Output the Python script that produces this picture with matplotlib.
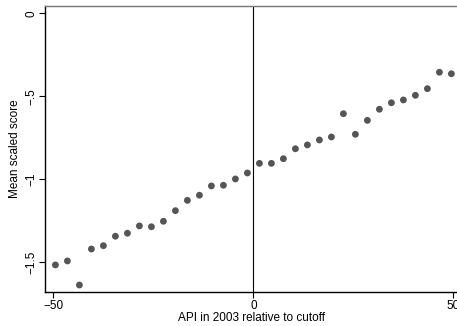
import numpy as np
import matplotlib
matplotlib.use('Agg')
import matplotlib.pyplot as plt

plt.rcParams['font.family'] = ['Liberation Sans', 'DejaVu Sans']

# bin midpoints (API relative to cutoff) and mean scaled scores
api_left = [-49.5, -46.5, -43.5, -40.5, -37.5, -34.5, -31.5, -28.5, -25.5,
            -22.5, -19.5, -16.5, -13.5, -10.5, -7.5, -4.5, -1.5]
score_left = [-1.516, -1.492, -1.637, -1.420, -1.400, -1.343, -1.325, -1.281, -1.286,
              -1.253, -1.189, -1.127, -1.096, -1.040, -1.036, -0.998, -0.962]
api_right = [1.5, 4.5, 7.5, 10.5, 13.5, 16.5, 19.5, 22.5, 25.5,
             28.5, 31.5, 34.5, 37.5, 40.5, 43.5, 46.5, 49.5]
score_right = [-0.904, -0.904, -0.876, -0.816, -0.793, -0.763, -0.745, -0.605, -0.729,
               -0.645, -0.578, -0.539, -0.522, -0.494, -0.454, -0.355, -0.364]

xticks = [-50, 0, 50]
xtick_labels = ['\u221250', '0', '50']
yticks = [0, -0.5, -1, -1.5]
ytick_labels = ['0', '\u2212.5', '\u22121', '\u22121.5']

fig = plt.figure(figsize=(4.57, 3.26), dpi=100)
ax = fig.add_axes([0.0985, 0.1043, 0.9015, 0.8773])

x = np.array(api_left + api_right)
y = np.array(score_left + score_right)
ax.scatter(x, y, s=24, color='#555555', edgecolors='none', zorder=3)
ax.axvline(0, color='black', lw=0.8)

ax.set_xlim(-52.1, 50.9)
ax.set_ylim(-1.679, 0.044)
ax.set_xticks(xticks)
ax.set_xticklabels(xtick_labels)
ax.set_yticks(yticks)
ax.set_yticklabels(ytick_labels, rotation=90, va='center')
ax.tick_params(direction='out', length=4, width=0.8, labelsize=8.5, pad=1.5)
ax.spines['right'].set_visible(False)
for s in ['left', 'bottom']:
    ax.spines[s].set_linewidth(1.0)
ax.spines['top'].set_linewidth(1.0)
ax.spines['top'].set_color('#777777')

ax.set_xlabel('API in 2003 relative to cutoff', fontsize=8.5, labelpad=0)
ax.set_ylabel('Mean scaled score', fontsize=8.5, labelpad=3)

fig.savefig('out.png', dpi=100)
